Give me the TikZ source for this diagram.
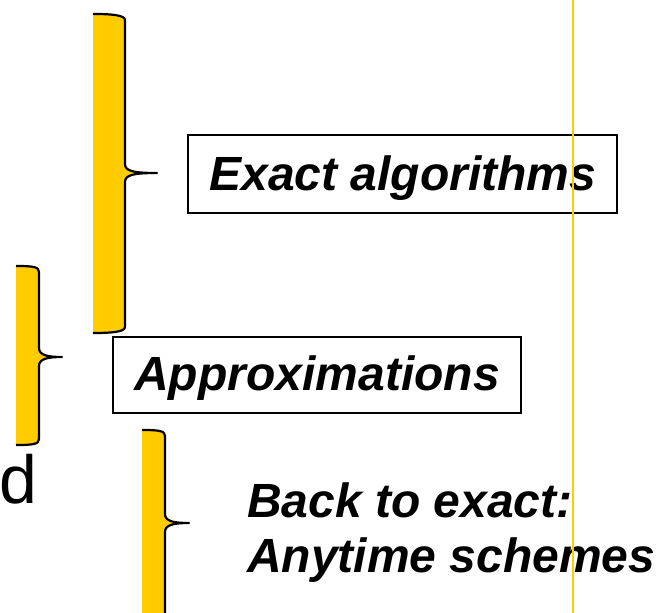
\documentclass[tikz,border=0pt]{standalone}
\usepackage{fontspec}
\setmainfont{Liberation Sans}
\definecolor{braceyellow}{HTML}{FFCC00}
\tikzset{
  bracefill/.style={fill=braceyellow},
  braceline/.style={draw=black,line width=2.2pt,line join=round},
  labelbox/.style={draw=black,line width=1.6pt,inner sep=0pt,font=\fontsize{48}{55}\selectfont\bfseries\itshape},
  labeltext/.style={inner sep=0pt,align=left,font=\fontsize{48}{55}\selectfont\bfseries\itshape},
}
% brace: #1=x0 #2=x1 #3=ytop #4=ymid #5=ybot #6=tipx
\newcommand{\yelbrace}[6]{%
  \fill[bracefill] (#1,#3) .. controls (#1+18,#3) and (#2,#3+1) .. (#2,#3+6)
    -- (#2,#4-9) .. controls (#2,#4-2) and (#2+8,#4) .. (#6,#4)
    .. controls (#2+8,#4) and (#2,#4+2) .. (#2,#4+9)
    -- (#2,#5-6) .. controls (#2,#5-1) and (#1+18,#5) .. (#1,#5) -- cycle;
  \draw[braceline] (#1,#3) .. controls (#1+18,#3) and (#2,#3+1) .. (#2,#3+6)
    -- (#2,#4-9) .. controls (#2,#4-2) and (#2+8,#4) .. (#6,#4)
    .. controls (#2+8,#4) and (#2,#4+2) .. (#2,#4+9)
    -- (#2,#5-6) .. controls (#2,#5-1) and (#1+18,#5) .. (#1,#5);
}
\begin{document}
\begin{tikzpicture}[x=1pt,y=-1pt]
\useasboundingbox (0,0) rectangle (659,613);
\clip (0,0) rectangle (659,613);
\fill[white] (0,0) rectangle (659,613);
\yelbrace{93}{125}{14}{173}{333}{157}
\yelbrace{16}{39}{266}{357}{445}{62}
\yelbrace{142}{165}{430}{523}{640}{189}
\node[draw=black,line width=1.6pt,minimum width=429pt,minimum height=78pt] (exact) at (402.5,174) {};
\node[labeltext,anchor=base] at (403,190) {Exact algorithms};
\node[draw=black,line width=1.6pt,minimum width=408pt,minimum height=76pt] (approx) at (317,375) {};
\node[labeltext,anchor=base] at (317,390) {Approximations};
\node[labeltext,anchor=base west] (anytime) at (247,572) {Back to exact:\\Anytime schemes};
\node[inner sep=0pt,anchor=base east,font=\fontsize{68}{80}\selectfont] (d) at (38,503) {d};
\draw[braceyellow,line width=2.2pt] (573,0) -- (573,613);
\end{tikzpicture}
\end{document}
